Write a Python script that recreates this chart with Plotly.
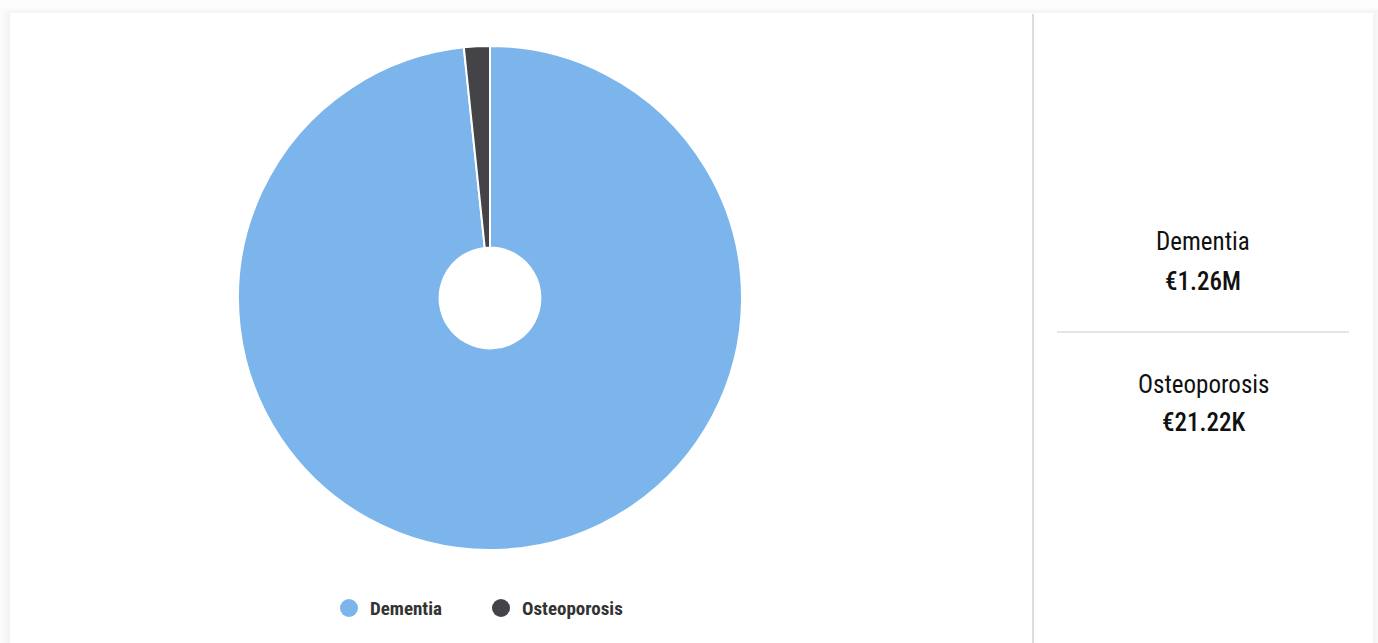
import plotly.graph_objects as go

# Cost per condition (EUR)
categories = ["Dementia", "Osteoporosis"]
values = [1260000, 21220]
colors = ["#7cb5ec", "#434348"]

W, H = 1378, 643
FONT = "Roboto Condensed, Liberation Sans Narrow, Roboto, sans-serif"


def fmt_eur(v):
    if v >= 1e6:
        return f"€{v / 1e6:.2f}M"
    if v >= 1e3:
        return f"€{v / 1e3:.2f}K"
    return f"€{v:.2f}"


def px_x(x):
    return x / W


def px_y(y):
    return 1 - y / H


fig = go.Figure()

fig.add_trace(go.Pie(
    labels=categories,
    values=values,
    marker=dict(colors=colors, line=dict(color="white", width=2)),
    hole=0.2,
    sort=False,
    direction="clockwise",
    rotation=0,
    textinfo="none",
    hoverinfo="label+value",
    showlegend=False,
    domain=dict(x=[px_x(238), px_x(742)], y=[px_y(550), px_y(46)]),
))

shapes = []
# soft card shadow
for d in range(1, 11):
    shapes.append(dict(type="rect", xref="paper", yref="paper",
                       x0=px_x(10 - d), x1=px_x(1373 + d),
                       y0=px_y(H + 10), y1=px_y(13 - d * 0.6),
                       line=dict(width=0), fillcolor="rgba(0,0,0,0.005)",
                       layer="below"))
shapes.append(dict(type="rect", xref="paper", yref="paper",
                   x0=px_x(10), x1=px_x(1373), y0=px_y(H + 10), y1=px_y(13),
                   line=dict(width=0), fillcolor="white", layer="below"))
# panel dividers
shapes.append(dict(type="line", xref="paper", yref="paper",
                   x0=px_x(1033), x1=px_x(1033), y0=px_y(H), y1=px_y(14),
                   line=dict(color="#dcdde0", width=2)))
shapes.append(dict(type="line", xref="paper", yref="paper",
                   x0=px_x(1057), x1=px_x(1349), y0=px_y(332), y1=px_y(332),
                   line=dict(color="#dcdde0", width=1.5)))

annotations = []
# legend
legend_x = [349, 501]
for name, col, lx in zip(categories, colors, legend_x):
    shapes.append(dict(type="circle", xref="paper", yref="paper",
                       x0=px_x(lx - 9), x1=px_x(lx + 9),
                       y0=px_y(608 + 9), y1=px_y(608 - 9),
                       line=dict(width=0), fillcolor=col))
    annotations.append(dict(xref="paper", yref="paper", x=px_x(lx + 19), y=px_y(608),
                            text=name, showarrow=False,
                            xanchor="left", yanchor="middle",
                            font=dict(family=FONT, size=19, color="#333333", weight=700)))

# side summary
label_y = [241, 384]
value_y = [281, 422]
for name, v, ly, vy in zip(categories, values, label_y, value_y):
    annotations.append(dict(xref="paper", yref="paper", x=px_x(1203), y=px_y(ly),
                            text=name, showarrow=False,
                            xanchor="center", yanchor="middle",
                            font=dict(family=FONT, size=25, color="#111111")))
    annotations.append(dict(xref="paper", yref="paper", x=px_x(1203), y=px_y(vy),
                            text=fmt_eur(v), showarrow=False,
                            xanchor="center", yanchor="middle",
                            font=dict(family=FONT, size=25, color="#111111", weight=500)))

fig.update_layout(
    width=W, height=H,
    margin=dict(l=0, r=0, t=0, b=0),
    paper_bgcolor="#fdfdfd",
    plot_bgcolor="white",
    shapes=shapes,
    annotations=annotations,
    showlegend=False,
)

fig.write_html("out.html", config={"displayModeBar": False})
